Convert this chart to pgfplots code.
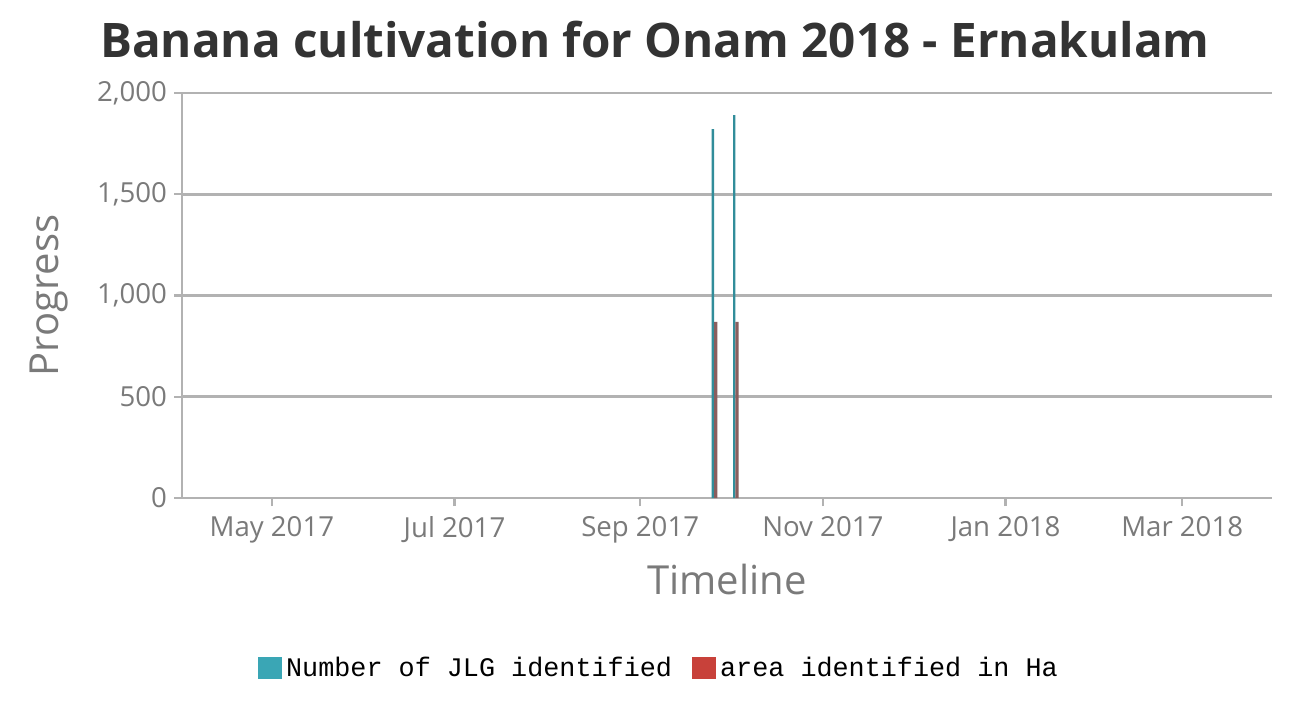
\documentclass[border=0pt]{standalone}
\usepackage{pgfplots}
\pgfplotsset{compat=1.18}
\usepackage{fontspec}
\setmainfont{Open Sans}
\setmonofont{Liberation Mono}
\definecolor{myteal}{HTML}{3AA6B5}
\definecolor{myred}{HTML}{C8413A}
\definecolor{bardark}{HTML}{8A5E5E}
\definecolor{axgray}{HTML}{B2B2B2}
\definecolor{labgray}{HTML}{7A7A7A}
\definecolor{titlegray}{HTML}{333333}
\begin{document}
\begin{tikzpicture}
\path[use as bounding box, fill=white] (0,0) rectangle (649.5pt,353pt);
\node[font=\bfseries\fontsize{23.8}{28}\selectfont, text=titlegray] at (327.5pt,333pt) {Banana cultivation for Onam 2018 - Ernakulam};
\begin{axis}[
  scale only axis, width=545pt, height=202.5pt,
  at={(91pt,104pt)}, anchor=south west,
  xmin=-30, xmax=334, ymin=0, ymax=2000,
  axis x line*=bottom, axis y line*=left,
  axis line style={axgray, line width=1.3pt, -},
  xtick={0,61,123,184,245,304},
  xticklabels={May 2017,Jul 2017,Sep 2017,Nov 2017,Jan 2018,Mar 2018},
  ytick={0,500,1000,1500,2000},
  /pgf/number format/1000 sep={,},
  /pgf/number format/assume math mode=true,
  tick align=outside, major tick length=4pt,
  tick style={axgray, line width=1.1pt},
  ymajorgrids, grid style={axgray, line width=1.3pt},
  tick label style={font=\fontsize{13.8}{16}\selectfont, text=labgray},
  xticklabel style={yshift=-1.5pt},
  xlabel={Timeline}, ylabel={Progress},
  label style={font=\fontsize{20}{24}\selectfont, text=labgray},
  xlabel style={yshift=-4pt},
  ylabel style={yshift=7.5pt},
  legend style={at={(0.4385,-0.42)}, anchor=center, draw=none, fill=none,
    font=\ttfamily\fontsize{13.4}{15}\selectfont, legend columns=2,
    /tikz/every even column/.append style={column sep=8pt},
    nodes={inner xsep=2pt}},
  legend image code/.code={\fill[#1, draw=none] (0pt,-5.5pt) rectangle (12pt,5.5pt);},
]
\addplot[ybar, bar width=1.2pt, bar shift=0pt, fill=myteal!85!black, draw=none, forget plot]
  coordinates {(147.3,1821) (154.4,1891)};
\addplot[ybar, bar width=1.6pt, bar shift=1.4pt, fill=bardark, draw=none, forget plot]
  coordinates {(147.3,870) (154.4,870)};
\addlegendimage{fill=myteal, draw=none}
\addlegendentry{Number of JLG identified}
\addlegendimage{fill=myred, draw=none}
\addlegendentry{area identified in Ha}
\end{axis}
\end{tikzpicture}
\end{document}
